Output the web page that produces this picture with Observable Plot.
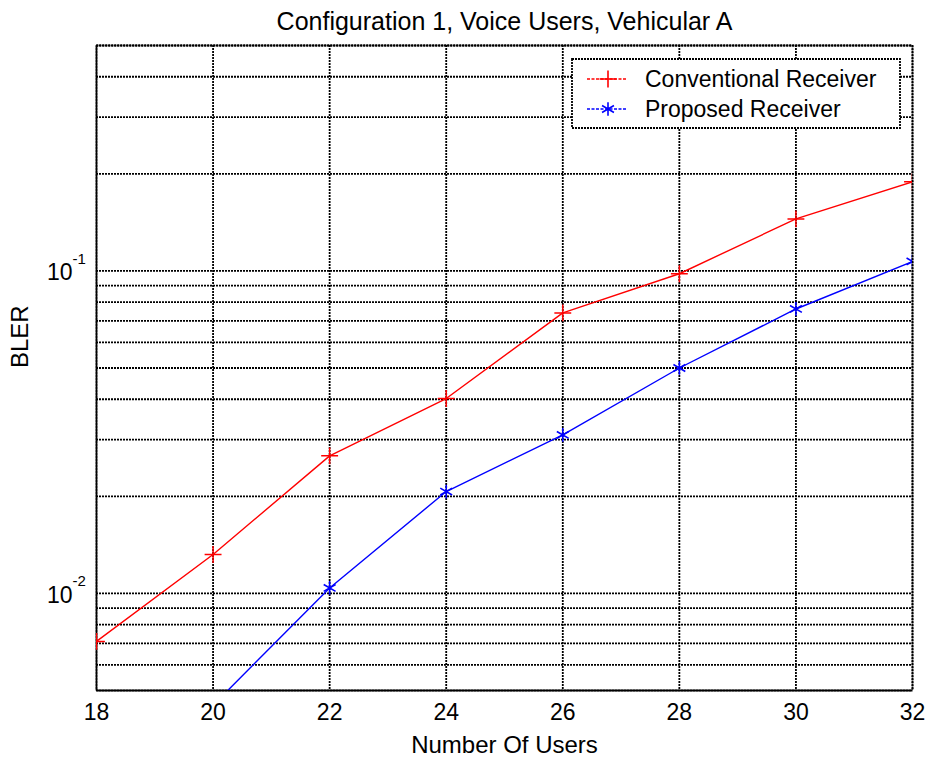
<!DOCTYPE html>
<html><head><meta charset="utf-8">
<script src="https://cdn.jsdelivr.net/npm/d3@7"></script>
<script src="https://cdn.jsdelivr.net/npm/@observablehq/plot@0.6"></script>
<style>body{margin:0;background:#fff} svg{display:block}</style>
</head><body><div id="chart"></div>
<script>
const titleText = "Configuration 1, Voice Users, Vehicular A";
const xLabel = "Number Of Users";
const yLabel = "BLER";
const users = [18, 20, 22, 24, 26, 28, 30, 32];
const conventional = [0.0071, 0.0132, 0.0267, 0.0402, 0.0741, 0.098, 0.145, 0.189];
const proposedUsers = [20, 22, 24, 26, 28, 30, 32];
const proposed = [0.0045, 0.0104, 0.0207, 0.031, 0.050, 0.0762, 0.107];
const xTicks = [18, 20, 22, 24, 26, 28, 30, 32];
const yLabelTicks = [0.01, 0.1];
const yExponents = ["-2", "-1"];
const yGrid = [0.005,0.006,0.007,0.008,0.009,0.01,0.02,0.03,0.04,0.05,0.06,0.07,0.08,0.09,0.1,0.2,0.3,0.4,0.5];
const seriesNames = ["Conventional Receiver", "Proposed Receiver"];
const seriesColors = ["#ff0000", "#0000ff"];
const seriesSymbols = ["plus", "asterisk"];

const convData = users.map((u, i) => ({x: u, y: conventional[i]}));
const propData = proposedUsers.map((u, i) => ({x: u, y: proposed[i]}));

const dotted = {stroke: "black", strokeOpacity: 1, strokeWidth: 1.8, strokeDasharray: "2,1"};
const font = "'Liberation Sans', Arial, Helvetica, sans-serif";

const chart = Plot.plot({
  width: 929, height: 762,
  marginLeft: 96, marginRight: 17, marginTop: 45, marginBottom: 72,
  style: {fontFamily: font, fontSize: "23px", color: "black", background: "white", overflow: "visible"},
  x: {domain: [18, 32], label: null, axis: null},
  y: {type: "log", domain: [0.005, 0.5], label: null, axis: null},
  marks: [
    Plot.gridY(yGrid, dotted),
    Plot.gridX(xTicks, dotted),
    Plot.frame(dotted),
    Plot.axisX(xTicks, {anchor: "bottom", tickSize: 0, tickPadding: 13, fontSize: 23, label: null}),
    Plot.text(yLabelTicks, {y: d => d, frameAnchor: "left", text: () => "10", textAnchor: "end", dx: -24, dy: 2, fontSize: 23}),
    Plot.text(yLabelTicks, {y: d => d, frameAnchor: "left", text: (d, i) => yExponents[i], textAnchor: "start", dx: -24, dy: -12, fontSize: 15}),
    Plot.text([titleText], {frameAnchor: "top", text: d => d, dy: -24, lineAnchor: "middle", fontSize: 25}),
    Plot.text([xLabel], {frameAnchor: "bottom", text: d => d, dy: 55, lineAnchor: "middle", fontSize: 24}),
    Plot.text([yLabel], {frameAnchor: "left", text: d => d, dx: -76, rotate: -90, lineAnchor: "middle", fontSize: 24}),
    Plot.line(convData, {x: "x", y: "y", stroke: seriesColors[0], strokeWidth: 1.4, clip: true}),
    Plot.line(propData, {x: "x", y: "y", stroke: seriesColors[1], strokeWidth: 1.4, clip: true}),
    Plot.dot(convData, {x: "x", y: "y", symbol: seriesSymbols[0], stroke: seriesColors[0], fill: "none", r: 5.5, strokeWidth: 1.5, clip: true}),
    Plot.dot(propData, {x: "x", y: "y", symbol: seriesSymbols[1], stroke: seriesColors[1], fill: "none", r: 6.5, strokeWidth: 1.6, clip: true})
  ]
});
document.getElementById("chart").appendChild(chart);

// Legend (MATLAB-style boxed legend, top-right inside the axes)
const svg = d3.select(chart);
const lg = svg.append("g").attr("font-family", font).attr("font-size", 23).attr("text-anchor", "start");
const boxX = 572, boxY = 59, boxW = 328, boxH = 69;
lg.append("rect").attr("x", boxX).attr("y", boxY).attr("width", boxW).attr("height", boxH)
  .attr("fill", "white").attr("stroke", "black").attr("stroke-width", 1.8).attr("stroke-dasharray", "2,1");
const symFns = [d3.symbolPlus, d3.symbolAsterisk];
const symR = [5.5, 6.5];
seriesNames.forEach((name, i) => {
  const cy = boxY + 20 + i * 30;
  lg.append("line").attr("x1", boxX + 15).attr("x2", boxX + 55).attr("y1", cy).attr("y2", cy)
    .attr("stroke", seriesColors[i]).attr("stroke-width", 1.4).attr("stroke-dasharray", "3,1.5");
  lg.append("path").attr("d", d3.symbol(symFns[i], Math.PI * symR[i] * symR[i])())
    .attr("transform", `translate(${boxX + 36},${cy})`)
    .attr("fill", "none").attr("stroke", seriesColors[i]).attr("stroke-width", 1.6);
  lg.append("text").attr("x", boxX + 73).attr("y", cy).attr("dy", "0.35em").attr("fill", "black")
    .attr("text-anchor", "start").text(name);
});
</script>
</body></html>
